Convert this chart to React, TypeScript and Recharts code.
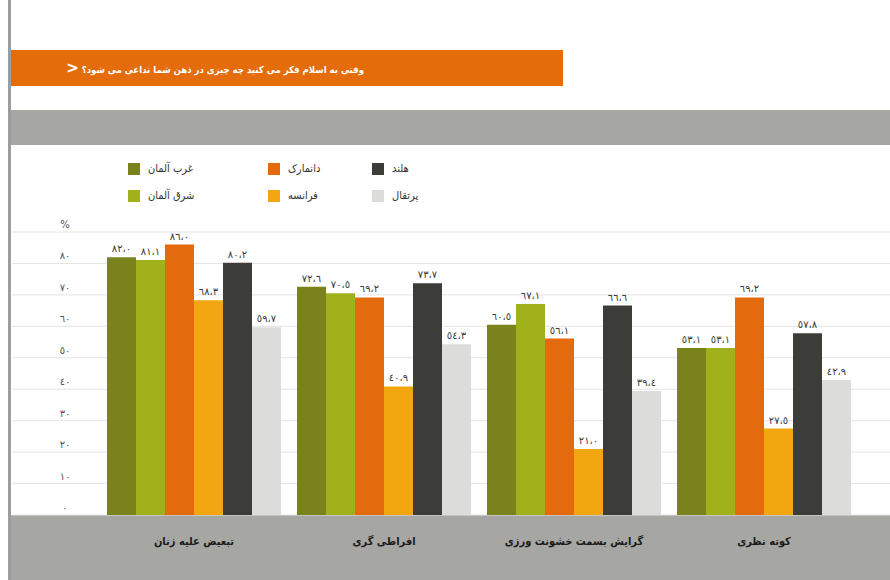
import React from 'react'
import { BarChart, Bar, XAxis, YAxis, CartesianGrid, LabelList } from 'recharts'

// categories (x axis)
const categories = ['تبعیض علیه زنان', 'افراطی گری', 'گرایش بسمت خشونت ورزی', 'کوته نظری']

// series values, %
const westGermany = [82.0, 72.6, 60.5, 53.1]
const eastGermany = [81.1, 70.5, 67.1, 53.1]
const denmark = [86.0, 69.2, 56.1, 69.2]
const france = [68.3, 40.9, 21.0, 27.5]
const holland = [80.2, 73.7, 66.6, 57.8]
const portugal = [59.7, 54.3, 39.4, 42.9]

const seriesNames = ['غرب آلمان', 'شرق آلمان', 'دانمارک', 'فرانسه', 'هلند', 'پرتقال']
const seriesKeys = ['westGermany', 'eastGermany', 'denmark', 'france', 'holland', 'portugal']
const yTicks = [0, 10, 20, 30, 40, 50, 60, 70, 80, 90]

const title = 'وقتی به اسلام فکر می کنید چه چیزی در ذهن شما تداعی می شود؟'

const COLORS = ['#7A831B', '#A0B11B', '#E46A0E', '#F2A60F', '#3C3D39', '#DCDCDA']

const data = categories.map((name, i) => ({
  name,
  westGermany: westGermany[i],
  eastGermany: eastGermany[i],
  denmark: denmark[i],
  france: france[i],
  holland: holland[i],
  portugal: portugal[i],
}))

const AR_DIGITS = '٠١٢٣٤٥٦٧٨٩'
const toArabic = (s: string) => s.replace(/[0-9]/g, (d) => AR_DIGITS[Number(d)]).replace('.', '،')

const FONT = '"DejaVu Sans", sans-serif'
const FONT_FA = '"DejaVu Sans Condensed", "DejaVu Sans", sans-serif'

const YTick = (props: any) => {
  const v = props.payload.value
  return (
    <text x={65} y={props.y - 7} textAnchor="middle" dominantBaseline="middle" fontSize={10} fill="#555" fontFamily={FONT}>
      {v === 90 ? '%' : toArabic(String(v))}
    </text>
  )
}

const XTick = (props: any) => (
  <text x={props.x} y={props.y + 19} textAnchor="middle" dominantBaseline="middle" fontSize={11} fontWeight="bold" fill="#1b1b1b" fontFamily={FONT_FA} direction="rtl">
    {props.payload.value}
  </text>
)

// legend laid out in three columns of two rows
const legendCols = [[0, 1], [2, 3], [4, 5]]
const legendLeft = [128, 268, 372]

export default function App() {
  return (
    <div style={{ position: 'absolute', left: 0, top: 0, width: 890, height: 580, background: '#fff', overflow: 'hidden', fontFamily: FONT_FA }}>
      {/* frame pieces */}
      <div style={{ position: 'absolute', left: 8, top: 0, width: 3, height: 580, background: '#9d9d9d' }} />
      <div style={{ position: 'absolute', left: 11, top: 110, width: 879, height: 35, background: '#A6A6A2' }} />
      <div style={{ position: 'absolute', left: 11, top: 515, width: 879, height: 65, background: '#A6A6A2' }} />

      <div style={{ position: 'absolute', left: 0, top: 0 }}>
        <BarChart
          width={890}
          height={580}
          data={data}
          margin={{ top: 232, right: 0, bottom: 35, left: 12 }}
          barCategoryGap={8}
          barGap={0}
        >
          <CartesianGrid vertical={false} stroke="#e4e4e4" />
          <XAxis
            dataKey="name"
            height={30}
            padding={{ left: 87, right: 31 }}
            axisLine={false}
            tickLine={false}
            tick={<XTick />}
            interval={0}
          />
          <YAxis
            width={60}
            mirror
            domain={[0, 90]}
            ticks={yTicks}
            interval={0}
            axisLine={false}
            tickLine={false}
            tick={<YTick />}
          />
          {seriesKeys.map((k, i) => (
            <Bar key={k} dataKey={k} name={seriesNames[i]} fill={COLORS[i]} isAnimationActive={false}>
              <LabelList
                dataKey={k}
                position="top"
                offset={5}
                fontSize={10}
                fill="#3a3a3a"
                fontFamily={FONT}
                formatter={(v: any) => toArabic(Number(v).toFixed(1))}
              />
            </Bar>
          ))}
        </BarChart>
      </div>

      {/* title bar */}
      <div style={{ position: 'absolute', left: 11, top: 50, width: 552, height: 36, background: '#E46C0A' }} />
      <div dir="rtl" style={{ position: 'absolute', left: 60, top: 50, width: 304, height: 36, lineHeight: '36px', color: '#fff', fontSize: 9.5, fontWeight: 'bold', textAlign: 'right', whiteSpace: 'nowrap' }}>
        {title} <span style={{ fontSize: 15, fontFamily: FONT }}>&lt;</span>
      </div>

      {/* legend */}
      {legendCols.map((col, c) =>
        col.map((si, r) => (
          <div key={si} style={{ position: 'absolute', left: legendLeft[c], top: 162 + r * 27, height: 13, display: 'flex', alignItems: 'center', fontSize: 11, color: '#333' }}>
            <span style={{ display: 'inline-block', width: 12, height: 12, background: COLORS[si], marginRight: 8 }} />
            <span dir="rtl">{seriesNames[si]}</span>
          </div>
        ))
      )}
    </div>
  )
}
